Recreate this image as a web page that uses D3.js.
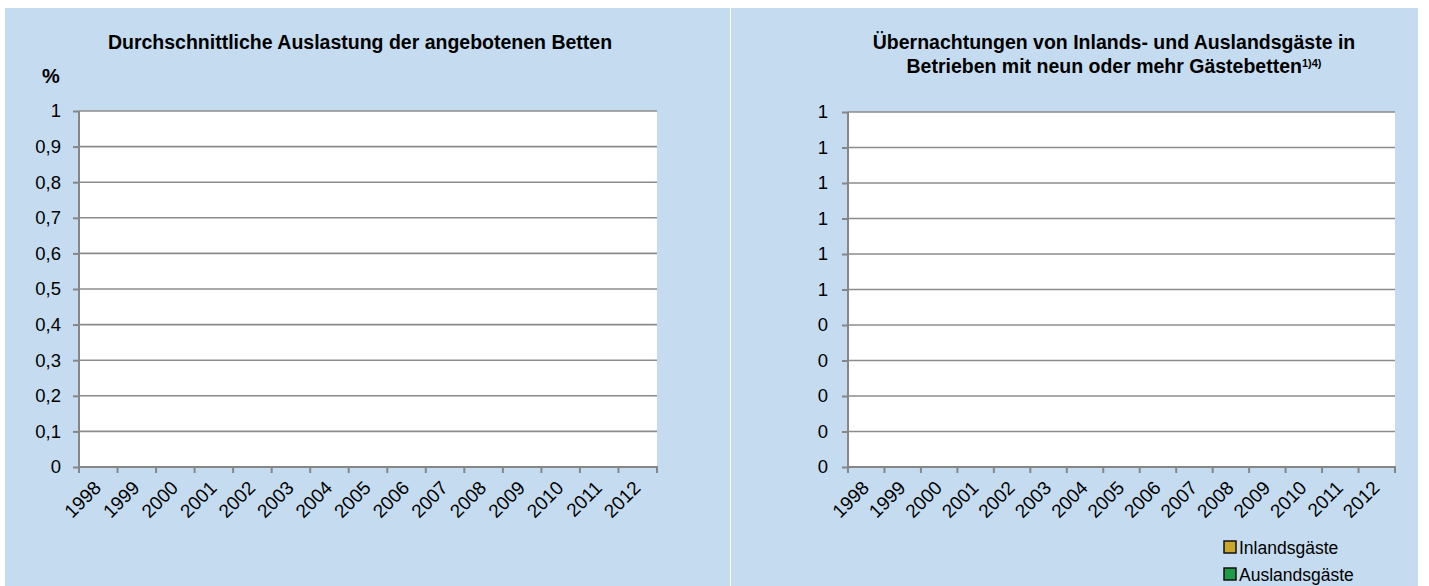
<!DOCTYPE html>
<html>
<head>
<meta charset="utf-8">
<script src="https://cdn.jsdelivr.net/npm/d3@7/dist/d3.min.js"></script>
<style>
  body { margin: 0; background: #fff; }
  svg { display: block; font-family: "Liberation Sans", Arial, sans-serif; }
</style>
</head>
<body>
<div id="chart"></div>
<script>
// categories and values (no bars are visible in the source picture)
var years = ["1998","1999","2000","2001","2002","2003","2004","2005","2006","2007","2008","2009","2010","2011","2012"];
var auslastung = [null,null,null,null,null,null,null,null,null,null,null,null,null,null,null];
var inlandsgaeste = [null,null,null,null,null,null,null,null,null,null,null,null,null,null,null];
var auslandsgaeste = [null,null,null,null,null,null,null,null,null,null,null,null,null,null,null];
var yTicks = [0,0.1,0.2,0.3,0.4,0.5,0.6,0.7,0.8,0.9,1];
var seriesNames = ["Inlandsgäste","Auslandsgäste"];
var seriesColors = ["#c9a72a","#1f9a47"];

var de = d3.formatLocale({decimal: ",", thousands: ".", grouping: [3], currency: ["", " €"]});
var fmtLeft = function(d) { return de.format("~g")(+d.toFixed(1)); };
var fmtRight = function(d) { return String(Math.round(d)); };

var svg = d3.select('#chart').append('svg')
  .attr('width', 1429)
  .attr('height', 586);

// panel backgrounds
svg.append('rect').attr('x', 5).attr('y', 8).attr('width', 725).attr('height', 578).attr('fill', '#c5dcf0');
svg.append('rect').attr('x', 731).attr('y', 8).attr('width', 687).attr('height', 578).attr('fill', '#c5dcf0');

function drawChart(cfg) {
  var g = svg.append('g');
  var x = d3.scaleBand().domain(years).range([cfg.x0, cfg.x1]).padding(0);
  var y = d3.scaleLinear().domain([0, 1]).range([cfg.y1, cfg.y0]);

  g.append('rect')
    .attr('x', cfg.x0).attr('y', cfg.y0)
    .attr('width', cfg.x1 - cfg.x0).attr('height', cfg.y1 - cfg.y0)
    .attr('fill', '#fff');

  // gridlines
  g.selectAll('.grid').data(yTicks.filter(function(d) { return d > 0; }))
    .enter().append('line')
    .attr('x1', cfg.x0).attr('x2', cfg.x1)
    .attr('y1', function(d) { return y(d); })
    .attr('y2', function(d) { return y(d); })
    .attr('stroke', '#8c8c8c')
    .attr('stroke-width', 1.6);

  // bars
  cfg.series.forEach(function(s, si) {
    var base = years.map(function(yr, i) {
      var b = 0;
      for (var k = 0; k < si; k++) b += (cfg.series[k].values[i] || 0);
      return b;
    });
    g.selectAll('.bar' + si).data(years.filter(function(yr, i) { return s.values[i] != null; }))
      .enter().append('rect')
      .attr('x', function(d) { return x(d) + x.bandwidth() * 0.2; })
      .attr('width', x.bandwidth() * 0.6)
      .attr('y', function(d) { var i = years.indexOf(d); return y(base[i] + s.values[i]); })
      .attr('height', function(d) { var i = years.indexOf(d); return y(base[i]) - y(base[i] + s.values[i]); })
      .attr('fill', s.color);
  });

  // y axis
  var ya = g.append('g')
    .attr('transform', 'translate(' + cfg.x0 + ',0)')
    .call(d3.axisLeft(y).tickValues(yTicks).tickSize(6).tickPadding(cfg.pad).tickFormat(cfg.fmt));
  ya.select('.domain').attr('stroke', '#868686').attr('stroke-width', 2).attr('d', 'M0,' + cfg.y0 + 'V' + cfg.y1);
  ya.selectAll('.tick line').attr('stroke', '#868686').attr('stroke-width', 2);
  ya.selectAll('.tick text').attr('fill', '#000').style('font-size', '18.5px').style('font-family', '"Liberation Sans", Arial, sans-serif');

  // x axis
  var xa = g.append('g');
  xa.append('line')
    .attr('x1', cfg.x0).attr('x2', cfg.x1 + 1)
    .attr('y1', cfg.y1).attr('y2', cfg.y1)
    .attr('stroke', '#868686').attr('stroke-width', 2);
  xa.selectAll('.xt').data(years.concat(['end']))
    .enter().append('line')
    .attr('x1', function(d) { return d === 'end' ? cfg.x1 : x(d); })
    .attr('x2', function(d) { return d === 'end' ? cfg.x1 : x(d); })
    .attr('y1', cfg.y1).attr('y2', cfg.y1 + 6)
    .attr('stroke', '#868686').attr('stroke-width', 2);
  xa.selectAll('.xl').data(years)
    .enter().append('text')
    .attr('transform', function(d) {
      return 'translate(' + (x(d) + x.bandwidth() / 2 + 4) + ',' + (cfg.y1 + 22) + ') rotate(-45)';
    })
    .attr('text-anchor', 'end')
    .style('font-size', '19px')
    .text(function(d) { return d; });

  // title
  var t = g.append('text')
    .attr('text-anchor', 'middle')
    .style('font-weight', 'bold')
    .style('font-size', '19.5px');
  cfg.title.forEach(function(line, i) {
    t.append('tspan').attr('x', cfg.tx).attr('y', cfg.ty + i * 24).text(line);
    if (i === cfg.title.length - 1 && cfg.sup) {
      t.append('tspan').attr('dy', -6).style('font-size', '11px').text(cfg.sup);
    }
  });
  return g;
}

drawChart({
  x0: 79, x1: 657, y0: 111, y1: 467, pad: 12, fmt: fmtLeft,
  title: ["Durchschnittliche Auslastung der angebotenen Betten"], tx: 360, ty: 49,
  series: [{ values: auslastung, color: '#1f9a47' }]
});

svg.append('text')
  .attr('x', 51).attr('y', 83)
  .attr('text-anchor', 'middle')
  .style('font-weight', 'bold')
  .style('font-size', '20px')
  .text('%');

drawChart({
  x0: 848, x1: 1395, y0: 112, y1: 467, pad: 14, fmt: fmtRight,
  title: ["Übernachtungen von Inlands- und Auslandsgäste in", "Betrieben mit neun oder mehr Gästebetten"],
  sup: "1)4)", tx: 1114, ty: 49,
  series: [{ values: inlandsgaeste, color: seriesColors[0] }, { values: auslandsgaeste, color: seriesColors[1] }]
});

// legend
var legend = svg.append('g').attr('transform', 'translate(1224,541)');
var li = legend.selectAll('g').data(seriesNames).enter().append('g')
  .attr('transform', function(d, i) { return 'translate(0,' + (i * 27) + ')'; });
li.append('rect')
  .attr('width', 12).attr('height', 12)
  .attr('fill', function(d, i) { return seriesColors[i]; })
  .attr('stroke', '#111').attr('stroke-width', 1.5);
li.append('text')
  .attr('x', 15).attr('y', 12.5)
  .style('font-size', '17.5px')
  .text(function(d) { return d; });
</script>
</body>
</html>
